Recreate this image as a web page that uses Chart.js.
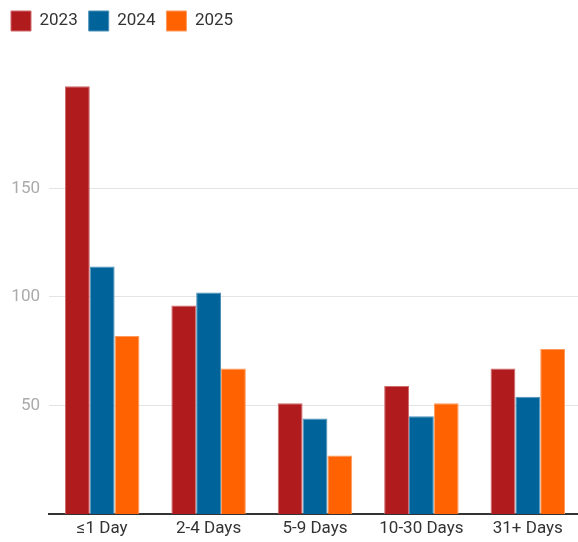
<!DOCTYPE html>
<html><head><meta charset="utf-8">
<script src="https://cdn.jsdelivr.net/npm/chart.js@4"></script>
<style>html,body{margin:0;padding:0;background:#fff;overflow:hidden}#wrap{width:581px;height:542px}</style>
</head><body><div id="wrap"><canvas id="c"></canvas></div>
<script>
const categories = ['≤1 Day', '2-4 Days', '5-9 Days', '10-30 Days', '31+ Days'];
const seriesNames = ['2023', '2024', '2025'];
const values2023 = [197, 96, 51, 59, 67];
const values2024 = [114, 102, 44, 45, 54];
const values2025 = [82, 67, 27, 51, 76];
const tickValues = [50, 100, 150];
const colors = ['#b01b1e', '#00639a', '#ff6200'];
const borders = ['#d06a6c', '#4d92b8', '#ff9a5c'];

const legendMargin = {
  id: 'legendMargin',
  beforeInit(chart) {
    const fit = chart.legend.fit;
    chart.legend.fit = function () { fit.bind(chart.legend)(); this.height = 82; };
  }
};

new Chart(document.getElementById('c'), {
  type: 'bar',
  data: {
    labels: categories,
    datasets: [values2023, values2024, values2025].map((v, i) => ({
      label: seriesNames[i], data: v,
      backgroundColor: colors[i], borderColor: borders[i], borderWidth: 1,
      barPercentage: 1.0, categoryPercentage: 0.7
    }))
  },
  plugins: [legendMargin],
  options: {
    responsive: true, maintainAspectRatio: false, animation: false,
    layout: { padding: 0 },
    plugins: {
      legend: {
        position: 'top', align: 'start',
        labels: { boxWidth: 20, boxHeight: 20, padding: 11, color: '#333', font: { family: 'Roboto', size: 17 } }
      },
      tooltip: { enabled: false }
    },
    scales: {
      x: {
        afterFit(s) { s.height = 28; },
        grid: { display: false, drawTicks: false },
        border: { display: true, color: '#333', width: 2 },
        ticks: { color: '#333', padding: 5, font: { family: 'Roboto', size: 17 } }
      },
      y: {
        min: 0, max: 199,
        afterFit(s) { s.width = 49; },
        afterBuildTicks(s) { s.ticks = tickValues.map(v => ({ value: v })); },
        grid: { color: '#e4e4e4', drawTicks: false, lineWidth: 1 },
        border: { display: false },
        ticks: { color: '#aaa', padding: 9, font: { family: 'Roboto', size: 17 } }
      }
    }
  }
});
</script></body></html>
